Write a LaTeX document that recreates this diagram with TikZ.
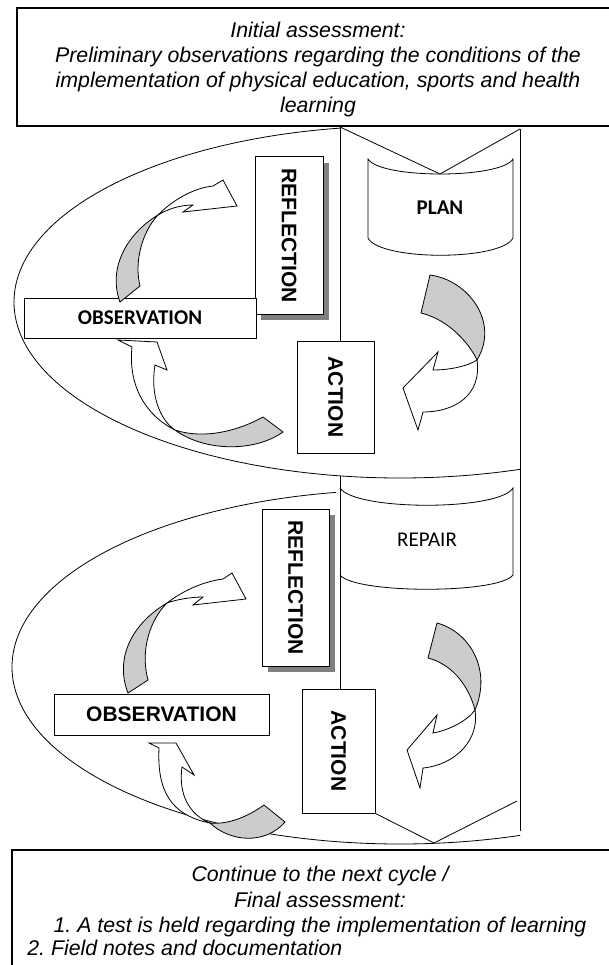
\documentclass[tikz,border=0pt]{standalone}
\usepackage{fontspec}
\setmainfont{Liberation Sans}
\newfontfamily\calfont{Carlito}
\usetikzlibrary{shadows}
\frenchspacing
\newcommand{\notefont}{\itshape\fontsize{21.3}{25.3}\selectfont\lineskiplimit=-20pt}
\newcommand{\labfont}{\bfseries\fontsize{21}{21}\selectfont}
\newcommand{\calbold}{\calfont\bfseries\fontsize{21}{21}\selectfont}
\tikzset{%
    box/.style={draw,fill=white,line width=1pt,inner sep=0pt},
    shadebox/.style={box,drop shadow={shadow xshift=6pt,shadow yshift=-6pt,fill=black!50,opacity=1}},
    bandfront/.style={draw,fill=white,line join=miter},
    bandback/.style={draw,fill=black!20}
}

\begin{document}
\begin{tikzpicture}[x=1pt,y=-1pt,thick]
  \useasboundingbox (0,0) rectangle (608,965);

  % cycle outlines
  \begin{scope}
    \clip (0,100) -- (340,100) -- (340,302) -- (520,302) -- (520,520) -- (0,520) -- cycle;
    \draw (400,302) ellipse [x radius=386, y radius=176];
  \end{scope}
  \begin{scope}
    \clip (0,470) -- (336,470) -- (336,667) -- (520,667) -- (520,900) -- (0,900) -- cycle;
    \draw (400,667) ellipse [x radius=388, y radius=177];
  \end{scope}

  \node[draw,line width=1.3pt,minimum width=602pt,minimum height=118pt] (init) at (318,67) {};
  \node[align=center,inner sep=0pt,font=\notefont] (initText) at (318,69.5)
    {Initial assessment:\\ Preliminary observations regarding the conditions of the\\ implementation of physical education, sports and health\\ learning};

  \coordinate (topL) at (340,127);
  \coordinate (topV) at (440,174);
  \coordinate (topR) at (520,129);
  \coordinate (botV) at (434,843);
  \coordinate (botR) at (517,801);

  % scrolls
  \draw (368,159) .. controls (380,179) and (501,179) .. (513,159) -- (513,238)
    .. controls (501,261) and (380,261) .. (368,238) -- cycle;
  \node[font=\calbold] (plan) at (440,208) {PLAN};
  \draw (340,488) .. controls (355,511) and (499,511) .. (513,488) -- (513,575)
    .. controls (499,594) and (355,594) .. (340,575);
  \node[font=\calfont\fontsize{21}{21}\selectfont] (repair) at (427,540) {REPAIR};

  % first cycle
  \node[shadebox,minimum width=68pt,minimum height=157pt] (refl1) at (289,235.5) {\labfont\rotatebox{-90}{REFLECTION}};
  \node[box,minimum width=232pt,minimum height=40pt,font=\calbold] (obs1) at (140,318) {OBSERVATION};
  \node[box,minimum width=77pt,minimum height=112pt] (act1) at (335.5,397) {\labfont\rotatebox{-90}{ACTION}};

  % second cycle
  \node[shadebox,minimum width=67pt,minimum height=157pt] (refl2) at (295.5,587.5) {\labfont\rotatebox{-90}{REFLECTION}};
  \node[box,minimum width=215pt,minimum height=41pt,font=\labfont] (obs2) at (161.5,714.5) {OBSERVATION};
  \node[box,minimum width=73pt,minimum height=124pt] (act2) at (338.5,751) {\labfont\rotatebox{-90}{ACTION}};

  \draw (topL) -- (topV) -- (topR);
  \draw (topL) -- (topL |- act1.north);
  \draw (340,476) -- (act2.north -| topL);
  \draw (topR) -- (520,831);
  \draw (act2.south east) -- (botV) -- (botR);

  % curved arrows, first cycle
  \draw[bandback] (120,302) .. controls (108,270) and (125,235) .. (158,215)
    .. controls (142,232) and (134,262) .. (140,286) -- cycle;
  \draw[bandfront] (158,215) .. controls (175,198) and (195,188) .. (213,186) -- (223,180) -- (237,206)
    -- (183,212) -- (193,205) .. controls (180,205) and (168,209) .. (158,215) -- cycle;
  \draw[bandfront] (175,430) .. controls (145,415) and (128,385) .. (132,347) -- (118,340) -- (157,342)
    -- (167,370) -- (155,365) .. controls (150,395) and (160,420) .. (175,430) -- cycle;
  \draw[bandback] (175,430) .. controls (205,440) and (240,430) .. (263,417) -- (283,432)
    .. controls (255,452) and (205,452) .. (175,430) -- cycle;
  \draw[bandback] (430,275) .. controls (468,280) and (500,322) .. (477,360)
    .. controls (470,345) and (450,320) .. (421,313) -- cycle;
  \draw[bandfront] (477,360) .. controls (482,395) and (455,412) .. (423,412) -- (418,430) -- (403,388)
    -- (438,352) -- (433,370) .. controls (450,370) and (468,366) .. (477,360) -- cycle;

  % curved arrows, second cycle
  \draw[bandback] (128,693) .. controls (115,660) and (130,625) .. (167,603)
    .. controls (150,620) and (140,650) .. (148,680) -- cycle;
  \draw[bandfront] (167,603) .. controls (180,593) and (200,582) .. (223,579) -- (232,573) -- (246,599)
    -- (193,605) -- (203,597) .. controls (190,597) and (175,600) .. (167,603) -- cycle;
  \draw[bandfront] (210,823) .. controls (170,815) and (157,790) .. (159,748) -- (149,743) -- (176,743)
    -- (194,775) -- (182,767) .. controls (178,795) and (190,815) .. (210,823) -- cycle;
  \draw[bandback] (210,823) .. controls (230,825) and (250,815) .. (264,805) -- (285,822)
    .. controls (265,845) and (230,842) .. (210,823) -- cycle;
  \draw[bandback] (437,623) .. controls (470,632) and (492,670) .. (475,710)
    .. controls (470,690) and (455,665) .. (428,658) -- cycle;
  \draw[bandfront] (475,710) .. controls (480,740) and (455,765) .. (423,768) -- (420,788) -- (407,750)
    -- (437,715) -- (433,733) .. controls (450,730) and (468,720) .. (475,710) -- cycle;

  % final box
  \node[draw,line width=1.3pt,minimum width=616pt,minimum height=140pt] (final) at (320,920) {};
  \node[anchor=north,align=center,inner sep=0pt,font=\notefont] (next) at (320,866)
    {Continue to the next cycle /\\ Final assessment:\\ 1. A test is held regarding the implementation of learning};
  \node[anchor=west,inner sep=0pt,font=\notefont] (notes) at (27,948) {2. Field notes and documentation};
\end{tikzpicture}
\end{document}
